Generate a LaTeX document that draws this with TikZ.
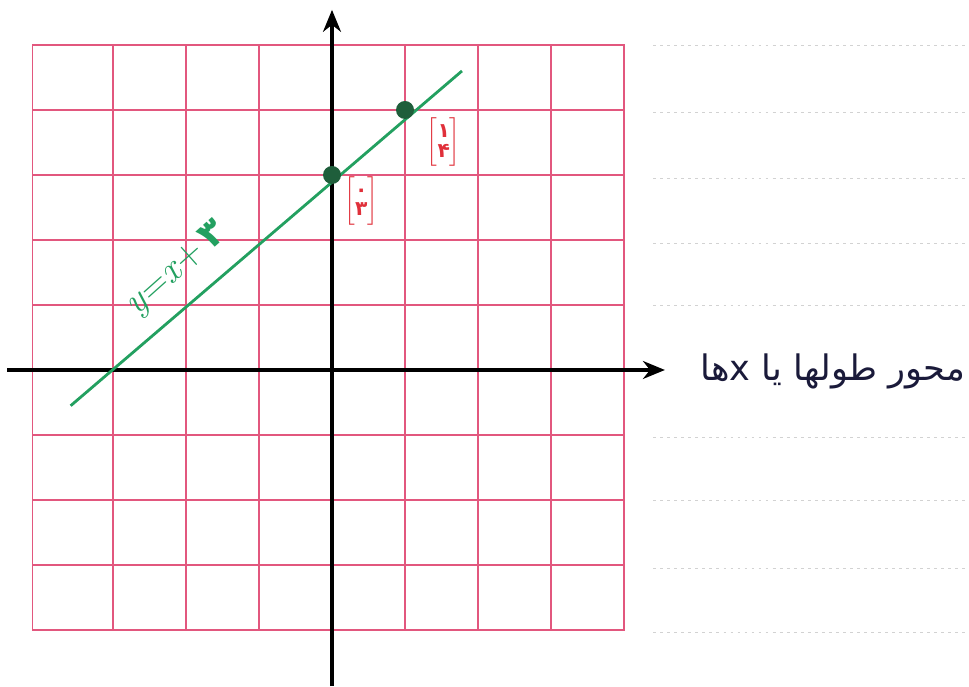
\documentclass[tikz,border=0pt]{standalone}
\usepackage{amsmath}
\usepackage{fontspec}
\newfontfamily\arabicfont[Script=Arabic]{DejaVu Sans}
\TeXXeTstate=1
\usepackage{tikz}
\usetikzlibrary{arrows.meta}
\definecolor{gridpink}{HTML}{E2577E}
\definecolor{linegreen}{HTML}{23A060}
\definecolor{dotgreen}{HTML}{1F5E3B}
\definecolor{vecred}{HTML}{E0303A}
\definecolor{inkblue}{HTML}{1A1A3A}

\begin{document}
\begin{tikzpicture}[x=1.825cm,y=1.625cm,
		gridline/.style={draw=gridpink,line width=0.8pt},
		axis/.style={line width=2.2pt,-{Stealth[length=5.5mm,width=4.5mm]}},
		pt/.style={circle,fill=dotgreen,inner sep=0pt,minimum size=0.45cm},
		vec/.style={text=vecred,inner sep=1pt,font=\Large\bfseries},
		ruled/.style={draw=gray!35,dash pattern=on 2pt off 3pt,line width=0.6pt},
		]
		\useasboundingbox (-4.548,-4.862) rectangle (8.726,5.692);

		% squared paper
		\foreach \i in {-3,...,3}
			\draw[gridline] (\i,-4) -- (\i,5);
		\foreach \j in {-3,...,4}
			\draw[gridline] (-4.1,\j) -- (4,\j);
		\draw[gridline] (-4.1,-4) rectangle (4,5);
		\foreach \yy in {5,3.97,2.95,1.95,1,-1.03,-2,-3.05,-4.03}
			\draw[ruled] (4.4,\yy) -- (8.726,\yy);

		% axes
		\coordinate (xs) at (-4.45,0);
		\coordinate (xe) at (4.56,0);
		\coordinate (ys) at (0,-4.862);
		\coordinate (ye) at (0,5.54);
		\draw[axis] (xs) -- (xe);
		\draw[axis] (ys) -- (ye);

		% the line y = x + 3
		\coordinate (a) at (-3.58,-0.55);
		\coordinate (b) at (1.78,4.6);
		\draw[linegreen,line width=2pt] (a) -- (b);
		\node[pt] (p0) at (0,3) {};
		\node[pt] (p1) at (1,4) {};

		\node[vec] (v0) at (0.4,2.6) {$\left[\begin{array}{@{}c@{}}\text{\arabicfont\bfseries ۰}\\[-4pt]\text{\arabicfont\bfseries ۳}\end{array}\right]$};
		\node[vec] (v1) at (1.53,3.5) {$\left[\begin{array}{@{}c@{}}\text{\arabicfont\bfseries ۱}\\[-4pt]\text{\arabicfont\bfseries ۴}\end{array}\right]$};
		\node[text=linegreen,rotate=41.7,font=\fontsize{27}{32}\selectfont] (eq) at (-2.12,1.55) {\textit{y}=\textit{x}+\,{\arabicfont\bfseries ۳}};

		\node[anchor=west,text=inkblue,font=\fontsize{25}{30}\selectfont\arabicfont] (xlab) at (4.98,-0.03) {\beginR محور طولها یا \beginL x\endL{}ها\endR};
\end{tikzpicture}
\end{document}
